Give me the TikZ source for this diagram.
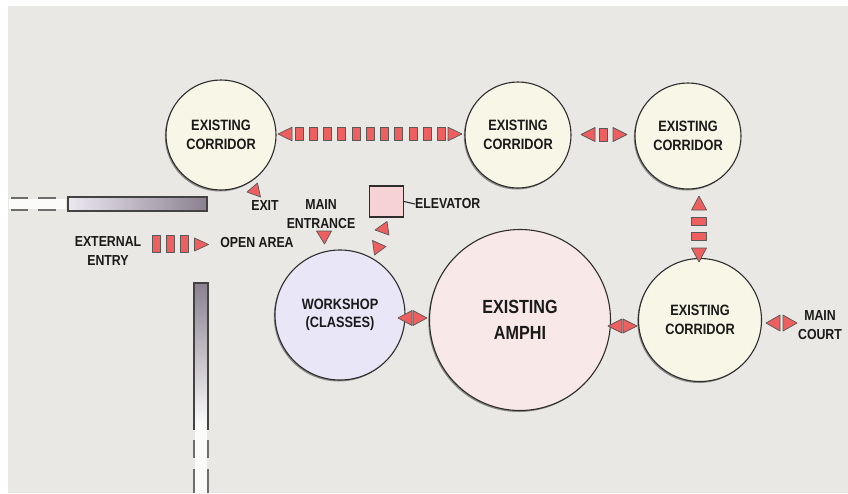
\documentclass[tikz,border=0pt]{standalone}
\usepackage{fontspec}
\setmainfont{Liberation Sans}[FakeStretch=0.85]
\usetikzlibrary{shadows}

\definecolor{paper}{HTML}{E9E8E4}
\definecolor{ink}{HTML}{1A1A1A}
\definecolor{edge}{HTML}{2E2E2E}
\definecolor{corrfill}{HTML}{F8F6E6}
\definecolor{amphifill}{HTML}{F8E8E8}
\definecolor{shopfill}{HTML}{E8E6F7}
\definecolor{elevfill}{HTML}{F6D2D4}
\definecolor{arrowfill}{HTML}{EE5F5F}
\definecolor{walldark}{HTML}{8B8190}
\definecolor{walllight}{HTML}{ECE8F0}

\tikzset{
  room/.style={circle, draw=edge, line width=1.1pt, align=center,
    font=\bfseries\fontsize{15}{18.5}\selectfont, text=ink, inner sep=0pt,
    drop shadow={shadow xshift=-1.2pt, shadow yshift=-1.5pt, opacity=.4, fill=black}},
  corridor/.style={room, fill=corrfill, minimum size=#1},
  label/.style={font=\bfseries\fontsize{14.5}{18.5}\selectfont, text=ink, align=center, inner sep=0pt},
  arw/.style={fill=arrowfill, draw=edge!80, line width=0.7pt, line join=round},
  wall/.style={draw=edge!90, line width=1.1pt},
  walldash/.style={draw=edge!70, line width=1.6pt},
}

% triangle arrow head: centre x, centre y, direction (0 right, 90 up), half height
\newcommand\arrowtri[4]{%
  \draw[arw, shift={(#1,#2)}, rotate=#3] (7,0) -- (-7,#4) -- (-7,-#4) -- cycle;}
% small block of a dotted link: centre x, centre y, half width, half height
\newcommand\arrowblock[4]{%
  \draw[arw] ({#1-#3},{#2-#4}) rectangle ({#1+#3},{#2+#4});}

\begin{document}
\begin{tikzpicture}[x=1pt, y=-1pt]
  \useasboundingbox (0,0) rectangle (848,493);
  \fill[white] (0,0) rectangle (848,493);
  \fill[paper] (8,6) rectangle (848,493);

  % ---- walls ----
  \fill[white, opacity=.85] (9,199) rectangle (66,209);
  \shade[left color=walllight, right color=walldark] (68,197) rectangle (207,211);
  \draw[wall] (68,197) rectangle (207,211);
  \foreach \a/\b in {11/28, 38/56} {
    \draw[walldash] (\a,198) -- (\b,198);
    \draw[walldash] (\a,210) -- (\b,210);
  }
  \fill[white, opacity=.85] (195,430) rectangle (207,493);
  \shade[top color=walldark, bottom color=white] (194,283) rectangle (208,430);
  \draw[wall] (194,430) -- (194,283) -- (208,283) -- (208,430);
  \foreach \a/\b in {440/458, 469/493} {
    \draw[walldash] (194,\a) -- (194,\b);
    \draw[walldash] (208,\a) -- (208,\b);
  }

  % ---- rooms ----
  \node[corridor=110pt] (c1) at (221,135) {EXISTING\\CORRIDOR};
  \node[corridor=106pt] (c2) at (518,135) {EXISTING\\CORRIDOR};
  \node[corridor=106pt] (c3) at (688,136) {EXISTING\\CORRIDOR};
  \node[corridor=123pt] (c4) at (700,320) {EXISTING\\CORRIDOR};
  \node[room, fill=amphifill, minimum size=181pt,
        font=\bfseries\fontsize{19}{26}\selectfont] (amphi) at (520,320) {EXISTING\\AMPHI};
  \node[room, fill=shopfill, minimum size=130pt] (shop) at (340,315) {WORKSHOP\\(CLASSES)};

  \node[draw=edge, line width=1.1pt, fill=elevfill, minimum width=34pt,
        minimum height=31pt, inner sep=0pt] (elev) at (386.5,201.5) {};
  \node[label, anchor=west] (elevlbl) at (415,204) {ELEVATOR};
  \draw[edge, line width=1.1pt] (elev.east) -- (elevlbl.west);

  % ---- labels ----
  \node[label] (exit) at (265,206) {EXIT};
  \node[label] (mainent) at (321,214) {MAIN\\ENTRANCE};
  \node[label] (extentry) at (108,251) {EXTERNAL\\ENTRY};
  \node[label] (openarea) at (257,243) {OPEN AREA};
  \node[label] (maincourt) at (820,325) {MAIN\\COURT};

  % ---- links ----
  % corridor to corridor, top row
  \arrowtri{285}{134}{180}{6.8}
  \foreach \k in {0,...,10} { \arrowblock{299+14.25*\k}{134}{4}{6.5} }
  \arrowtri{455}{134}{0}{6.8}
  \arrowtri{588}{134.5}{180}{7}
  \arrowblock{603.5}{134.5}{3.8}{6.5}
  \arrowtri{620}{134.5}{0}{7}
  % corridor down to corridor
  \arrowtri{699}{203}{90}{7.5}
  \arrowblock{699}{221}{7.5}{4}
  \arrowblock{699}{236}{7.5}{4}
  \arrowtri{699}{255}{270}{7.5}
  % ground floor links
  \arrowtri{405}{318}{180}{7.5}
  \arrowtri{420}{318}{0}{7.5}
  \arrowtri{615}{326}{180}{7}
  \arrowtri{630}{326}{0}{7}
  \arrowtri{773}{323}{180}{8}
  \arrowtri{790}{323}{0}{8}
  % entry from outside
  \foreach \x in {156,170,184} { \arrowblock{\x}{243.5}{4}{8.5} }
  \arrowtri{201.5}{244.5}{0}{6.5}
  % single heads
  \draw[arw] (247,192) -- (257.5,183) -- (260.5,197) -- cycle;
  \draw[arw] (316.5,231) -- (331.5,231) -- (324.5,244) -- cycle;
  \draw[arw] (375,230) -- (387,221.5) -- (389,235) -- cycle;
  \draw[arw] (372.5,240.5) -- (386,246.5) -- (374.5,255) -- cycle;
\end{tikzpicture}
\end{document}
